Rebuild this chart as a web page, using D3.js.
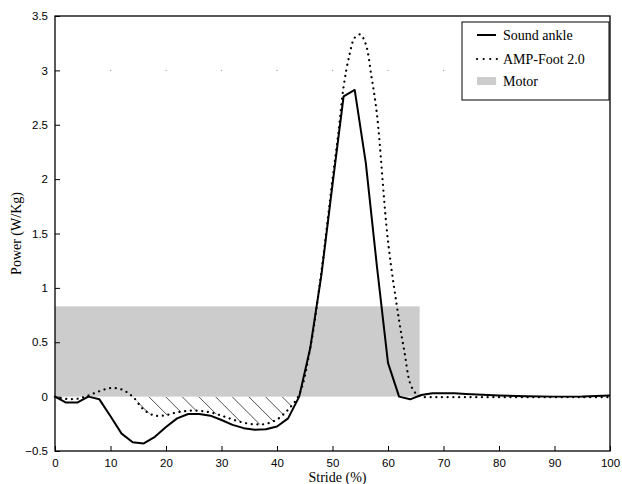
<html>
<head>
<script src="https://cdn.jsdelivr.net/npm/d3@7"></script>
<style>
  body { margin: 0; background: #fff; }
  .tick text { font-family: "Liberation Sans", Arial, sans-serif; font-size: 11.5px; }
  .lbl { font-family: "Liberation Serif", "Times New Roman", serif; font-size: 14px; }
</style>
</head>
<body>
<script>
// stride (%) and power (W/Kg)
let soundX = [0,2,4,6,8,10,12,14,16,18,20,22,24,26,28,30,32,34,36,38,40,42,44,46,48,50,52,54,56,58,60,62,64,66,68,70,72,74,76,78,80,85,90,95,100];
let soundY = [0,-0.055,-0.055,0.0,-0.025,-0.18,-0.34,-0.42,-0.43,-0.37,-0.28,-0.2,-0.16,-0.16,-0.175,-0.215,-0.26,-0.29,-0.305,-0.3,-0.275,-0.2,0.0,0.45,1.12,1.95,2.76,2.82,2.15,1.2,0.31,0.0,-0.025,0.015,0.03,0.032,0.03,0.025,0.02,0.015,0.01,0.003,0.0,0.002,0.01];

let ampX = [0,2,4,6,8,10,12,14,16,18,20,22,24,26,28,30,32,34,36,38,40,42,44,46,48,50,51,52,53,54,55,56,57,58,60,62,63,64,65,66,68,70,75,80,85,90,95,100];
let ampY = [0,-0.02,-0.02,0.01,0.05,0.078,0.066,0.0,-0.12,-0.175,-0.17,-0.145,-0.13,-0.13,-0.145,-0.175,-0.21,-0.24,-0.255,-0.25,-0.21,-0.12,0.02,0.45,1.15,2.0,2.4,2.85,3.13,3.3,3.33,3.24,2.95,2.6,1.43,0.7,0.4,0.12,0.03,0.0,-0.005,-0.005,-0.005,-0.005,-0.005,-0.005,-0.005,-0.005];

// motor band
let motorRange = [0, 65.7];
let motorLevel = 0.83;
// hatched negative-work zone of AMP-Foot
let hatchRange = [12, 46];

let xTicks = [0,10,20,30,40,50,60,70,80,90,100];
let yTicks = [-0.5,0,0.5,1,1.5,2,2.5,3,3.5];
let markX = [10,20,30,40,50,60,70];   // faint marks at 3 W/Kg
let legendNames = ["Sound ankle", "AMP-Foot 2.0", "Motor"];

let screen = {width:622, height:484};
let box = {left:55, right:610, top:16, bottom:451};

let xScale = d3.scaleLinear().domain([0,100]).range([box.left, box.right]);
let yScale = d3.scaleLinear().domain([-0.5,3.5]).range([box.bottom, box.top]);

let svg = d3.select("body").append("svg")
    .attr("width", screen.width).attr("height", screen.height);

let sound = soundX.map((x,i) => [x, soundY[i]]);
let amp = ampX.map((x,i) => [x, ampY[i]]);

//motor
svg.append("rect")
    .attr("x", xScale(motorRange[0]))
    .attr("y", yScale(motorLevel))
    .attr("width", xScale(motorRange[1]) - xScale(motorRange[0]))
    .attr("height", yScale(0) - yScale(motorLevel))
    .attr("fill", "#cccccc");

//hatch
let hatchPts = amp.filter(d => d[0] >= hatchRange[0] && d[0] <= hatchRange[1]);
let hatchArea = d3.area()
    .x(d => xScale(d[0]))
    .y0(yScale(0))
    .y1(d => yScale(Math.min(d[1], 0)))
    .curve(d3.curveCatmullRom);
svg.append("clipPath").attr("id", "hclip")
    .append("path").attr("d", hatchArea(hatchPts));
let hatch = svg.append("g").attr("clip-path", "url(#hclip)");
let hatchStarts = d3.range(13.9 - 3*3, 46, 3);
hatch.selectAll("line").data(hatchStarts).enter().append("line")
    .attr("x1", d => xScale(d))
    .attr("y1", yScale(0))
    .attr("x2", d => xScale(d) + 60)
    .attr("y2", yScale(0) + 60)
    .attr("stroke", "#222")
    .attr("stroke-width", 0.8);

//faint marks
svg.selectAll(".mark").data(markX).enter().append("rect")
    .attr("class", "mark")
    .attr("x", d => xScale(d) - 0.5)
    .attr("y", yScale(3) - 0.5)
    .attr("width", 1.2).attr("height", 1.2)
    .attr("fill", "#aaa");

//lines
let line = d3.line().x(d => xScale(d[0])).y(d => yScale(d[1]));
svg.append("path")
    .attr("d", line(sound))
    .attr("fill", "none").attr("stroke", "#000")
    .attr("stroke-width", 2).attr("stroke-linejoin", "round");
svg.append("path")
    .attr("d", line.curve(d3.curveCatmullRom)(amp))
    .attr("fill", "none").attr("stroke", "#000")
    .attr("stroke-width", 2.2)
    .attr("stroke-dasharray", "0.1,5.6")
    .attr("stroke-linecap", "round");

//axes
let fmt = d => d < 0 ? "\u2212" + Math.abs(d) : String(d);
let xAxis = svg.append("g")
    .attr("transform", "translate(0," + box.bottom + ")")
    .call(d3.axisBottom(xScale).tickValues(xTicks).tickSizeInner(-5).tickSizeOuter(0).tickPadding(8).tickFormat(fmt));
let yAxis = svg.append("g")
    .attr("transform", "translate(" + box.left + ",0)")
    .call(d3.axisLeft(yScale).tickValues(yTicks).tickSizeInner(-5).tickSizeOuter(0).tickPadding(7).tickFormat(fmt));
svg.selectAll(".domain").remove();
svg.selectAll(".tick line").attr("stroke", "#000");
svg.selectAll(".tick text").attr("fill", "#000");

svg.append("rect")
    .attr("x", box.left).attr("y", box.top)
    .attr("width", box.right - box.left).attr("height", box.bottom - box.top)
    .attr("fill", "none").attr("stroke", "#000").attr("stroke-width", 1.3);

svg.append("text").attr("class", "lbl")
    .attr("x", (box.left + box.right)/2 + 5).attr("y", 482)
    .attr("text-anchor", "middle").text("Stride (%)");
svg.append("text").attr("class", "lbl")
    .attr("transform", "translate(21," + ((box.top + box.bottom)/2) + ") rotate(-90)")
    .attr("text-anchor", "middle").text("Power (W/Kg)");

//legend
let leg = svg.append("g").attr("transform", "translate(462,22)");
leg.append("rect").attr("width", 147).attr("height", 78)
    .attr("fill", "#fff").attr("stroke", "#000").attr("stroke-width", 1);
let rows = leg.selectAll(".row").data(legendNames).enter().append("g")
    .attr("transform", (d,i) => "translate(0," + [13, 37, 59][i] + ")");
rows.append("text").attr("class", "lbl")
    .attr("x", 41).attr("y", 5).text(d => d);
rows.filter((d,i) => i == 0).append("line")
    .attr("x1", 15).attr("x2", 34).attr("stroke", "#000").attr("stroke-width", 2);
rows.filter((d,i) => i == 1).append("line")
    .attr("x1", 15).attr("x2", 35).attr("stroke", "#000").attr("stroke-width", 2.2)
    .attr("stroke-dasharray", "0.1,6.5").attr("stroke-linecap", "round");
rows.filter((d,i) => i == 2).append("rect")
    .attr("x", 15).attr("y", -4).attr("width", 19).attr("height", 8).attr("fill", "#cccccc");
</script>
</body>
</html>
